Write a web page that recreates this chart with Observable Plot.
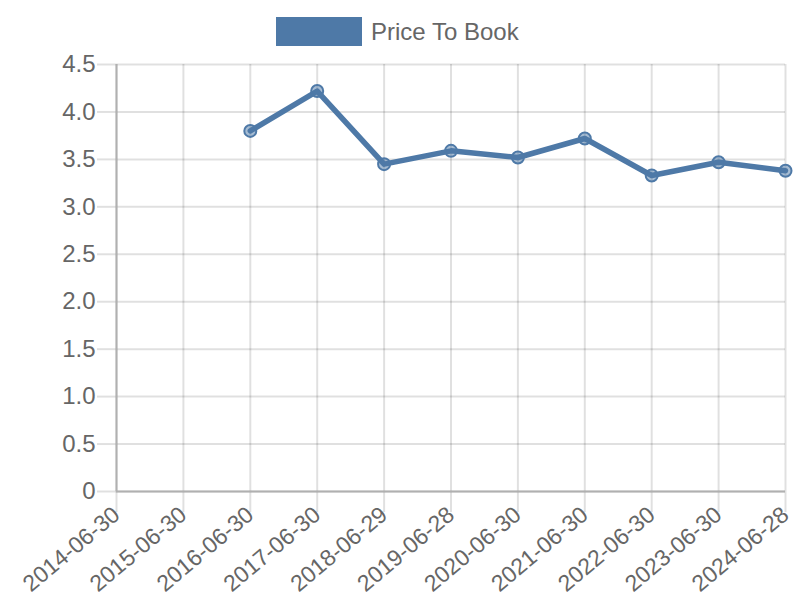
<!DOCTYPE html>
<html>
<head>
<meta charset="utf-8">
<script src="https://cdn.jsdelivr.net/npm/d3@7"></script>
<script src="https://cdn.jsdelivr.net/npm/@observablehq/plot@0.6"></script>
<style>
  body { margin: 0; background: #fff; font-family: "Liberation Sans", Arial, sans-serif; }
  #wrap { width: 800px; }
  #legend { position: relative; height: 40px; }
  #legend .sw { position: absolute; left: 276px; top: 17px; width: 86px; height: 29px; background: #4e79a7; }
  #legend .lb { position: absolute; left: 371px; top: 17px; font-size: 24px; line-height: 29px; color: #666; white-space: nowrap; }
  svg { display: block; overflow: visible; }
</style>
</head>
<body>
<div id="wrap">
  <div id="legend"><div class="sw"></div><div class="lb">Price To Book</div></div>
  <div id="chart"></div>
</div>
<script>
const dates = ["2014-06-30","2015-06-30","2016-06-30","2017-06-30","2018-06-29","2019-06-28","2020-06-30","2021-06-30","2022-06-30","2023-06-30","2024-06-28"];
const priceToBook = [null, null, 3.80, 4.22, 3.45, 3.59, 3.52, 3.72, 3.33, 3.47, 3.38];
const yTicks = [0, 0.5, 1.0, 1.5, 2.0, 2.5, 3.0, 3.5, 4.0, 4.5];

const data = dates.map((d, i) => ({date: d, value: priceToBook[i]})).filter(d => d.value != null);
const color = "#4e79a7";

const chart = Plot.plot({
  width: 800,
  height: 560,
  marginTop: 24,
  marginBottom: 109,
  marginLeft: 116,
  marginRight: 15,
  style: {fontFamily: "'Liberation Sans', Arial, sans-serif", color: "#666", background: "#fff"},
  x: {type: "point", domain: dates, padding: 0, round: false},
  y: {domain: [0, 4.5]},
  marks: [
    Plot.gridY(yTicks, {stroke: "#000", strokeOpacity: 0.12, strokeWidth: 2}),
    Plot.gridX(dates, {stroke: "#000", strokeOpacity: 0.12, strokeWidth: 2}),
    Plot.axisY(yTicks, {tickSize: 19, tickPadding: 2, stroke: "#000", strokeOpacity: 0.12, strokeWidth: 2, fontSize: 24, fill: "#666",
      tickFormat: d => d === 0 ? "0" : d.toFixed(1), label: null}),
    Plot.axisX(dates, {tickSize: 21, tickPadding: -1, stroke: "#000", strokeOpacity: 0.12, strokeWidth: 2, fontSize: 23, fill: "#666",
      tickRotate: -40, label: null}),
    Plot.ruleX([dates[0]], {stroke: "#b0b0b0", strokeWidth: 2}),
    Plot.ruleY([0], {stroke: "#b0b0b0", strokeWidth: 2}),
    Plot.line(data, {x: "date", y: "value", stroke: color, strokeWidth: 5.5}),
    Plot.dot(data, {x: "date", y: "value", r: 6, fill: color, fillOpacity: 0.5, stroke: color, strokeWidth: 2})
  ]
});
document.getElementById("chart").appendChild(chart);
</script>
</body>
</html>
